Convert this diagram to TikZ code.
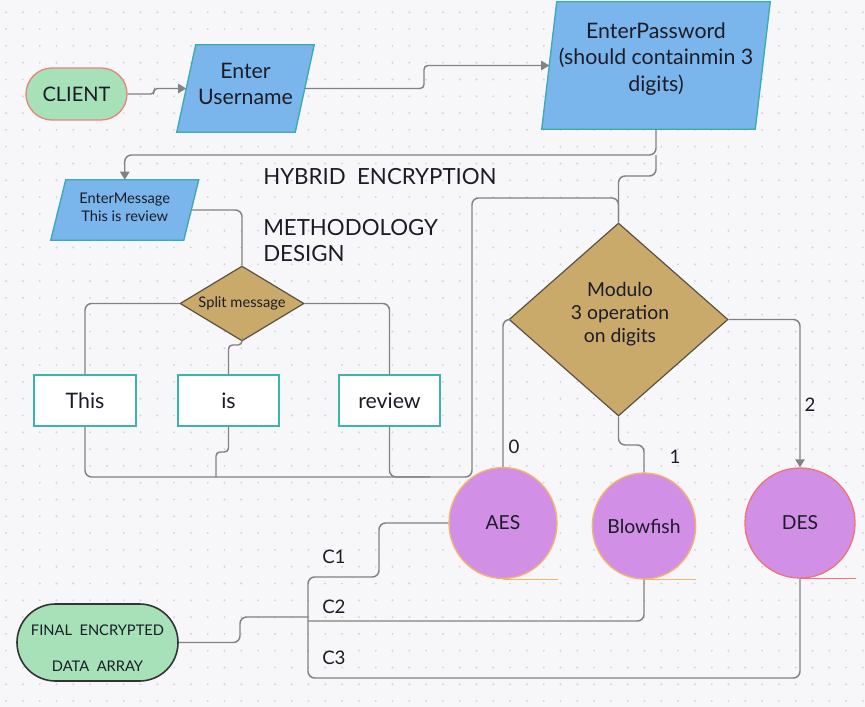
\documentclass[tikz,border=0pt]{standalone}
\usepackage{fontspec}
\setmainfont{Lato}
\usetikzlibrary{positioning,shapes.geometric,shapes.misc,arrows.meta,calc}

\definecolor{paper}{HTML}{F7F7F9}
\definecolor{griddot}{HTML}{D4D4DC}
\definecolor{inblue}{HTML}{7AB6EC}
\definecolor{inedge}{HTML}{3AAAB4}
\definecolor{decfill}{HTML}{C9AA6B}
\definecolor{decedge}{HTML}{5B5142}
\definecolor{algofill}{HTML}{D28FE6}
\definecolor{algoedge}{HTML}{F4B46E}
\definecolor{desedge}{HTML}{EE7479}
\definecolor{termfill}{HTML}{A6E1B8}
\definecolor{termedge}{HTML}{E8857A}
\definecolor{boxedge}{HTML}{3AB5A8}
\definecolor{wirecol}{HTML}{828282}
\definecolor{ink}{HTML}{1C1C28}

% input shape: name, centre, width, height, half slant, text options, text
\newcommand{\inputbox}[7]{%
  \node[inbox,wh={#3}{#4}] (#1) at #2 {};
  \filldraw[inshape] ($(#1.south west)+(-#5,0)$) -- ($(#1.north west)+(#5,0)$)
    -- ($(#1.north east)+(#5,0)$) -- ($(#1.south east)+(-#5,0)$) -- cycle;
  \node[align=center,text=ink,#6] (#1 text) at (#1) {#7};
}

\begin{document}
\begin{tikzpicture}[x=0.75pt,y=-0.75pt,
    wh/.style 2 args={minimum width=#1*0.75pt,minimum height=#2*0.75pt},
    terminal/.style={rounded rectangle,fill=termfill,line width=1pt,inner sep=0pt,text=ink,align=center},
    inbox/.style={rectangle,inner sep=0pt},
    inshape/.style={fill=inblue,draw=inedge,line width=1pt},
    decision/.style={diamond,fill=decfill,draw=decedge,line width=0.9pt,inner sep=0pt,align=center,text=ink},
    wordbox/.style={rectangle,fill=white,draw=boxedge,line width=1.2pt,inner sep=0pt,text=ink,font=\fontsize{16}{19}\selectfont},
    algo/.style={ellipse,fill=algofill,draw=algoedge,line width=1pt,inner sep=0pt,text=ink,font=\fontsize{14.5}{17}\selectfont},
    wire/.style={draw=wirecol,line width=1.1pt,rounded corners=5pt},
    arrow/.style={wire,-{Triangle[length=6pt,width=7pt]}},
    tag/.style={text=ink,inner sep=0pt,font=\fontsize{14}{17}\selectfont},
    title/.style={text=ink,inner sep=0pt,font=\fontsize{16.7}{20}\selectfont}
  ]
  \useasboundingbox (0,0) rectangle (865,707);
  \fill[paper] (0,0) rectangle (865,707);
  \foreach \i in {0,...,51}
    \foreach \j in {0,...,41}
      \fill[griddot] (6.1+16.8*\i,12.3+16.8*\j) circle (0.8pt);

  % login
  \node[terminal,draw=termedge,wh={101}{52},font=\fontsize{15}{18}\selectfont] (client) at (76.5,94) {CLIENT};
  \inputbox{user}{(245.5,88.5)}{118}{87}{9.5}{yshift=3.75pt,font=\fontsize{16}{19.5}\selectfont}{Enter\\Username}
  \inputbox{pw}{(656,65.5)}{213}{127}{7.5}{yshift=5pt,font=\fontsize{16}{19.8}\selectfont}{EnterPassword\\(should containmin 3\\digits)}
  \inputbox{msg}{(124.75,210)}{132.5}{60}{7.5}{yshift=2.25pt,font=\fontsize{11}{13.5}\selectfont}{EnterMessage\\This is review}

  \node[title,anchor=base west] (hybrid) at (263,184) {HYBRID\ \ ENCRYPTION};
  \node[title,anchor=base west] (method) at (263,235) {METHODOLOGY};
  \node[title,anchor=base west] (design) at (263,261) {DESIGN};

  % split of the message
  \node[decision,wh={124}{75},aspect=1.65,font=\fontsize{11}{13}\selectfont] (split) at (242,303.5) {Split message};
  \node[wordbox,wh={102}{51}] (this) at (85,400.5) {This};
  \node[wordbox,wh={101}{51}] (is) at (228.5,400.5) {is};
  \node[wordbox,wh={101}{51}] (review) at (389.5,400.5) {review};

  % choice of cipher
  \node[decision,wh={219}{193},aspect=1.13] (mod) at (618.5,319.5) {};
  \node[align=center,text=ink,font=\fontsize{14.5}{17.3}\selectfont] (mod text) at (620,314.5) {Modulo\\3 operation\\on digits};
  \node[algo,wh={108}{111}] (aes) at (503,523) {AES};
  \node[algo,wh={102}{106}] (blow) at (644,526) {Blowfish};
  \node[algo,draw=desedge,wh={110}{110}] (des) at (800,523) {DES};
  \draw[algoedge,line width=1pt] (aes.south) -- (aes.south -| aes.east);
  \draw[algoedge,line width=1pt] (blow.south) -- (blow.south -| blow.east);
  \draw[desedge,line width=1pt] (des.south) -- (des.south -| des.east);

  \node[terminal,draw=black!80,line width=1.2pt,wh={161}{77}] (final) at (97.5,642.5) {};
  \node[align=center,text=ink,font=\fontsize{11}{13.5}\selectfont] (final text) at (97.5,648) {FINAL\ \ ENCRYPTED\\[13.5pt]DATA\ \ ARRAY};

  % connectors
  \draw[arrow,rounded corners=2.5pt] (client.east) -- (154,94) -- (154,88.5) -- (user.west);
  \draw[arrow,rounded corners=3pt] (user.east) -- (424,88.5) -- (424,65.5) -- (pw.west);
  \draw[arrow] (pw.south) -- (656,155) -| (msg.north);
  \draw[wire] (656,155) -- (656,176) -| (mod.north);
  \draw[wire] (msg.east) -| (split.north);
  \draw[wire] (split.west) -| (this.north);
  \draw[wire] (split.east) -| (review.north);
  \draw[wire,rounded corners=3pt] (split.south) -- (242,345) -| (is.north);
  \draw[wire] (this.south) |- (472,477) -- (472,198) -| (mod.north);
  \draw[wire] (review.south) |- (430,477);
  \draw[wire,rounded corners=3pt] (is.south) -- (228.5,452) -| (216,477);
  \draw[wire] (mod.west) -| (aes.north);
  \draw[wire] (mod.south) -- (618.5,445) -| (blow.north);
  \draw[arrow] (mod.east) -| (des.north);

  \draw[wire] (aes.west) -| (379,577) -- (308,577) -- (308,678) -| (des.south);
  \draw[wire] (blow.south) |- (308,621);
  \draw[wire] (final.east) -- (240,642.5) -- (240,617) -- (308,617);

  % labels
  \node[tag] (zero) at (514,447) {0};
  \node[tag] (one) at (675,457) {1};
  \node[tag] (two) at (810,405) {2};
  \node[tag,anchor=west] (cone) at (322,557) {C1};
  \node[tag,anchor=west] (ctwo) at (322,607) {C2};
  \node[tag,anchor=west] (cthree) at (322,658) {C3};
\end{tikzpicture}
\end{document}
